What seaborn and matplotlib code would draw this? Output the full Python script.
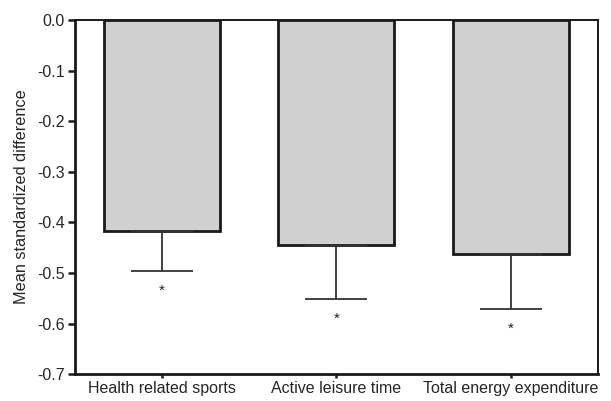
import pandas as pd
import matplotlib
matplotlib.use('Agg')
import matplotlib.pyplot as plt
import seaborn as sns

# Values
categories = ['Health related sports', 'Active leisure time', 'Total energy expenditure']
means = [-0.417, -0.445, -0.463]
lower_err = [0.079, 0.107, 0.108]

df = pd.DataFrame({'measure': categories, 'diff': means})

sns.set_style('ticks')
plt.rcParams['font.family'] = ['Liberation Sans', 'DejaVu Sans']

fig = plt.figure(figsize=(6.11, 4.01), dpi=100)
ax = fig.add_axes([0.122, 0.067, 0.857, 0.883])

sns.barplot(data=df, x='measure', y='diff', color='#d0d0d0', edgecolor='#1a1a1a',
            linewidth=2, width=0.665, errorbar=None, saturation=1, ax=ax)

# one-sided (downward) error bars
ax.errorbar(range(len(categories)), means, yerr=[lower_err, [0] * len(means)],
            fmt='none', ecolor='#333333', elinewidth=1.3, capsize=22, capthick=1.3)

# significance markers
for i, (m, e) in enumerate(zip(means, lower_err)):
    ax.annotate('*', (i, m - e), xytext=(0, -14), textcoords='offset points',
                ha='center', va='center', fontsize=11, color='#222222')

ax.set_ylim(-0.7, 0)
ax.set_xlim(-0.5, 2.5)
ax.set_yticks([0, -0.1, -0.2, -0.3, -0.4, -0.5, -0.6, -0.7])
ax.set_yticklabels(['0.0', '-0.1', '-0.2', '-0.3', '-0.4', '-0.5', '-0.6', '-0.7'])
ax.set_xlabel('')
ax.set_ylabel('Mean standardized difference', fontsize=11.7, labelpad=6)
ax.tick_params(axis='y', labelsize=11.5, width=1.8, length=5, color='#1a1a1a', pad=2)
ax.tick_params(axis='x', labelsize=11.5, width=1.8, length=3, color='#1a1a1a', pad=2)

for side in ['left', 'bottom']:
    ax.spines[side].set_linewidth(2)
    ax.spines[side].set_color('#1a1a1a')
for side in ['top', 'right']:
    ax.spines[side].set_visible(True)
    ax.spines[side].set_linewidth(1.4)
    ax.spines[side].set_color('#1a1a1a')

plt.savefig('out.png', dpi=100)
plt.close()
